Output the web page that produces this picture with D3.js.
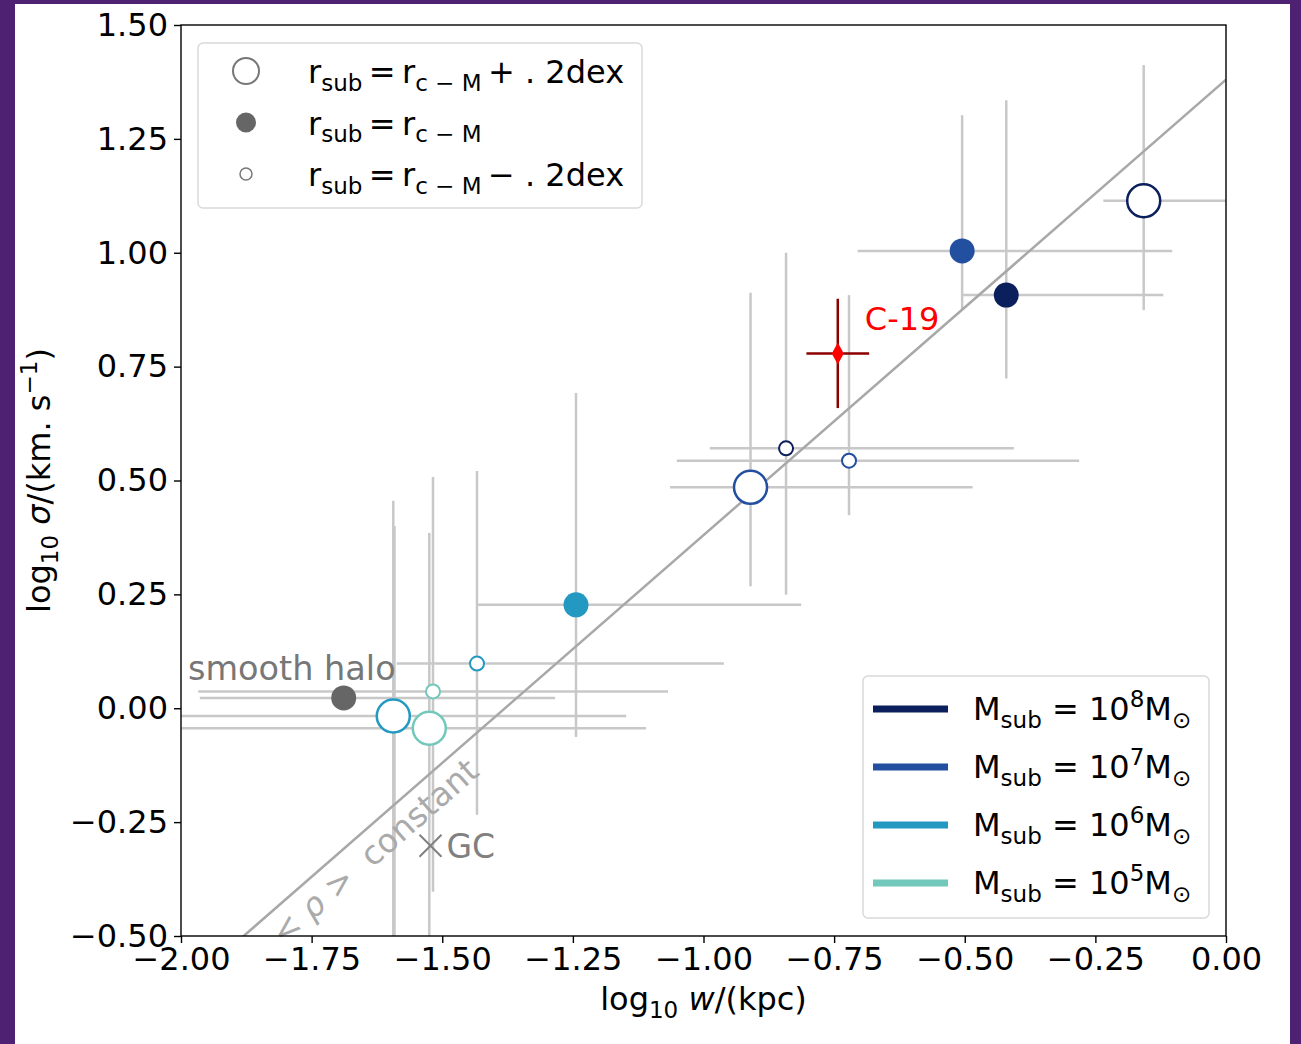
<!DOCTYPE html>
<html>
<head>
<meta charset="utf-8">
<script src="https://cdn.jsdelivr.net/npm/d3@7"></script>
<style>
  body { margin: 0; background: #fff; }
  text { font-family: "DejaVu Sans", sans-serif; white-space: pre; }
</style>
</head>
<body>
<div id="chart"></div>
<script>
// Sub-halo runs: mass (log10 Msun), size variant, position and error-bar ends
var subMass  = [8, 8, 8, 7, 7, 7, 6, 6, 6, 5, 5, 5]
var subSize  = ["plus", "mid", "minus", "plus", "mid", "minus", "plus", "mid", "minus", "plus", "mid", "minus"]
var logW     = [-0.1575, -0.4205, -0.842, -0.910, -0.505, -0.7215, -1.5937, -1.244, -1.4335, -1.5248, -1.5914, -1.5177]
var logSigma = [1.114, 0.907, 0.5707, 0.485, 1.004, 0.5435, -0.017, 0.227, 0.098, -0.0438, -0.65, 0.037]
var wLo      = [-0.2348, -0.503, -0.988, -1.064, -0.705, -1.051, -2.1, -1.4335, -1.587, -2.1, -1.62, -1.967]
var wHi      = [0.05, -0.120, -0.406, -0.485, -0.103, -0.281, -1.148, -0.813, -0.961, -1.110, -1.56, -1.068]
var sLo      = [0.874, 0.724, 0.249, 0.268, 0.8745, 0.424, -0.6, -0.063, -0.234, -0.6, -0.8, -0.403]
var sHi      = [1.412, 1.335, 1.0, 0.912, 1.302, 0.907, 0.4556, 0.692, 0.521, 0.385, 0.400, 0.5077]

// smooth halo, globular cluster, C-19
var halo = { w: -1.6886, s: 0.0227, wLo: -1.964, wHi: -1.284 }
var gc = { w: -1.5225, s: -0.302 }
var c19 = { w: -0.743, s: 0.779, dw: 0.06, ds: 0.12 }

// constant density relation: log sigma = log w + b
var relSlope = 1
var relIntercept = 1.38

var massLegend = [8, 7, 6, 5]
var sizeLegend = ["plus", "mid", "minus"]
var sizeLegendText = ["+ . 2dex", "", "− . 2dex"]
var xTicks = [-2, -1.75, -1.5, -1.25, -1, -0.75, -0.5, -0.25, 0]
var yTicks = [-0.5, -0.25, 0, 0.25, 0.5, 0.75, 1, 1.25, 1.5]

var svgWidth = 1301
var svgHeight = 1044
var margin = { top: 25, right: 75, bottom: 108, left: 181 }
var width = 1226 - margin.left
var height = 936 - margin.top

var svg = d3.select("#chart").append("svg")
  .attr("width", svgWidth)
  .attr("height", svgHeight)

// purple frame
svg.append("rect").attr("width", svgWidth).attr("height", svgHeight).attr("fill", "#4f2173")
svg.append("rect").attr("x", 15).attr("y", 4).attr("width", 1275).attr("height", svgHeight - 4).attr("fill", "#fff")

var chartGroup = svg.append("g")
  .attr("transform", `translate(${margin.left}, ${margin.top})`)

var x = d3.scaleLinear().domain([-2, 0]).range([0, width])
var y = d3.scaleLinear().domain([-0.5, 1.5]).range([height, 0])

var color = d3.scaleOrdinal().domain(massLegend).range(["#0a1f5c", "#234fa0", "#2399c2", "#72c8bb"])
var radius = { plus: 16.5, mid: 12.5, minus: 7 }

chartGroup.append("clipPath").attr("id", "clip")
  .append("rect").attr("width", width).attr("height", height)

var plot = chartGroup.append("g").attr("clip-path", "url(#clip)")

var subs = subMass.map((m, i) => ({
  m: m, size: subSize[i], w: logW[i], s: logSigma[i],
  wLo: wLo[i], wHi: wHi[i], sLo: sLo[i], sHi: sHi[i]
}))

var errColor = "#c8c8c8"

// error bars
subs.concat([{ w: halo.w, s: halo.s, wLo: halo.wLo, wHi: halo.wHi, sLo: halo.s, sHi: halo.s }])
  .forEach(function(d) {
    plot.append("line")
      .attr("x1", x(d.wLo)).attr("x2", x(d.wHi))
      .attr("y1", y(d.s)).attr("y2", y(d.s))
      .attr("stroke", errColor).attr("stroke-width", 2.5)
    if (d.sLo !== d.sHi) {
      plot.append("line")
        .attr("x1", x(d.w)).attr("x2", x(d.w))
        .attr("y1", y(d.sLo)).attr("y2", y(d.sHi))
        .attr("stroke", errColor).attr("stroke-width", 2.5)
    }
  })

// relation line
plot.append("line")
  .attr("x1", x(-2)).attr("y1", y(-2 * relSlope + relIntercept))
  .attr("x2", x(0)).attr("y2", y(relIntercept))
  .attr("stroke", "#a8a8a8").attr("stroke-width", 2.5)

// sub-halo markers
plot.selectAll("circle.sub")
  .data(subs)
  .enter()
  .append("circle")
  .attr("class", "sub")
  .attr("cx", d => x(d.w))
  .attr("cy", d => y(d.s))
  .attr("r", d => radius[d.size])
  .attr("fill", d => d.size === "mid" ? color(d.m) : "#fff")
  .attr("stroke", d => d.size === "mid" ? "none" : color(d.m))
  .attr("stroke-width", d => d.size === "plus" ? 2.5 : 2)

// smooth halo
plot.append("circle")
  .attr("cx", x(halo.w)).attr("cy", y(halo.s)).attr("r", 12.5)
  .attr("fill", "#666")
chartGroup.append("text")
  .attr("x", 7).attr("y", y(halo.s) - 18)
  .attr("font-size", 33.5).attr("fill", "#777")
  .text("smooth halo")

// GC
var gx = x(gc.w), gy = y(gc.s)
plot.append("path")
  .attr("d", `M${gx - 11},${gy - 11}L${gx + 11},${gy + 11}M${gx - 11},${gy + 11}L${gx + 11},${gy - 11}`)
  .attr("stroke", "#808080").attr("stroke-width", 2)
chartGroup.append("text")
  .attr("x", gx + 16).attr("y", gy + 12)
  .attr("font-size", 33).attr("fill", "#808080")
  .text("GC")

// C-19
var cx = x(c19.w), cy = y(c19.s)
plot.append("line")
  .attr("x1", x(c19.w - c19.dw)).attr("x2", x(c19.w + c19.dw))
  .attr("y1", cy).attr("y2", cy)
  .attr("stroke", "#8b0000").attr("stroke-width", 2.5)
plot.append("line")
  .attr("x1", cx).attr("x2", cx)
  .attr("y1", y(c19.s - c19.ds)).attr("y2", y(c19.s + c19.ds))
  .attr("stroke", "#8b0000").attr("stroke-width", 2.5)
plot.append("path")
  .attr("d", `M${cx},${cy - 11}L${cx + 6},${cy}L${cx},${cy + 11}L${cx - 6},${cy}Z`)
  .attr("fill", "#ff0000")
chartGroup.append("text")
  .attr("x", cx + 27).attr("y", cy - 23)
  .attr("font-size", 32).attr("fill", "#ff0000")
  .text("C-19")

// <rho> constant label along the line, just below it
var ang = -Math.atan((y(-1) - y(0)) / (x(0) - x(-1))) * 180 / Math.PI
var lbl = chartGroup.append("text")
  .attr("transform", `translate(${x(-1.8) - 2}, ${y(-0.5) + 10}) rotate(${ang})`)
  .attr("font-size", 33).attr("fill", "#aaaaaa")
lbl.append("tspan").text("< ")
lbl.append("tspan").attr("font-style", "italic").text("ρ")
lbl.append("tspan").text(" >  constant")

// axes
var bottomAxis = d3.axisBottom(x).tickValues(xTicks).tickFormat(d3.format(".2f")).tickSize(7).tickPadding(4)
var leftAxis = d3.axisLeft(y).tickValues(yTicks).tickFormat(d3.format(".2f")).tickSize(7).tickPadding(6)

var xAxis = chartGroup.append("g").attr("transform", `translate(0, ${height})`).call(bottomAxis)
var yAxis = chartGroup.append("g").call(leftAxis)
;[xAxis, yAxis].forEach(function(a) {
  a.select(".domain").remove()
  a.selectAll("line").attr("stroke", "#000").attr("stroke-width", 1.4)
  a.selectAll("text").attr("font-size", 32).attr("fill", "#000").attr("font-family", "DejaVu Sans")
})

chartGroup.append("rect")
  .attr("width", width).attr("height", height)
  .attr("fill", "none").attr("stroke", "#000").attr("stroke-width", 1.4)

// rich text helper: parts = [text, "sub"|"sup"|null, italic]
function rich(sel, parts, size) {
  var cur = 0
  parts.forEach(function(p) {
    var target = p[1] === "sub" ? size * 0.24 : p[1] === "sup" ? -size * 0.4 : 0
    sel.append("tspan")
      .attr("dy", target - cur)
      .attr("font-size", p[1] ? size * 0.72 : size)
      .attr("font-style", p[2] ? "italic" : null)
      .text(p[0])
    cur = target
  })
}

// axis labels
var xLabel = svg.append("text")
  .attr("x", margin.left + width / 2).attr("y", 1010)
  .attr("text-anchor", "middle").attr("font-size", 32)
rich(xLabel, [["log"], ["10", "sub"], [" "], ["w", null, true], ["/(kpc)"]], 32)

var yLabel = svg.append("text")
  .attr("transform", `translate(50, ${margin.top + height / 2}) rotate(-90)`)
  .attr("text-anchor", "middle").attr("font-size", 32)
rich(yLabel, [["log"], ["10", "sub"], [" "], ["σ", null, true], ["/(km. s"], ["−1", "sup"], [")"]], 32)

// size legend (upper left)
var leg1 = svg.append("g")
leg1.append("rect")
  .attr("x", 198).attr("y", 43).attr("width", 444).attr("height", 165).attr("rx", 5)
  .attr("fill", "#fff").attr("stroke", "#d9d9d9").attr("stroke-width", 1.5)
sizeLegend.forEach(function(s, i) {
  var ry = 71 + i * 51.5
  leg1.append("circle")
    .attr("cx", 246).attr("cy", ry)
    .attr("r", s === "plus" ? 13 : s === "mid" ? 10 : 6)
    .attr("fill", s === "mid" ? "#666" : "#fff")
    .attr("stroke", s === "mid" ? "none" : "#777")
    .attr("stroke-width", s === "plus" ? 2 : 1.5)
  var t = leg1.append("text").attr("x", 308).attr("y", ry + 12).attr("font-size", 32)
  var parts = [["r"], ["sub", "sub"], ["\u2009=\u2009r"], ["c − M", "sub"]]
  if (sizeLegendText[i]) parts.push(["\u2009" + sizeLegendText[i]])
  rich(t, parts, 32)
})

// mass legend (lower right)
var leg2 = svg.append("g")
leg2.append("rect")
  .attr("x", 863).attr("y", 676).attr("width", 346).attr("height", 242).attr("rx", 5)
  .attr("fill", "#fff").attr("stroke", "#d9d9d9").attr("stroke-width", 1.5)
massLegend.forEach(function(m, i) {
  var ry = 709 + i * 58
  leg2.append("line")
    .attr("x1", 873).attr("x2", 948).attr("y1", ry).attr("y2", ry)
    .attr("stroke", color(m)).attr("stroke-width", 7)
  var t = leg2.append("text").attr("x", 973).attr("y", ry + 11).attr("font-size", 32)
  rich(t, [["M"], ["sub", "sub"], [" = 10"], [String(m), "sup"], ["M"], ["⊙", "sub"]], 32)
})
</script>
</body>
</html>
